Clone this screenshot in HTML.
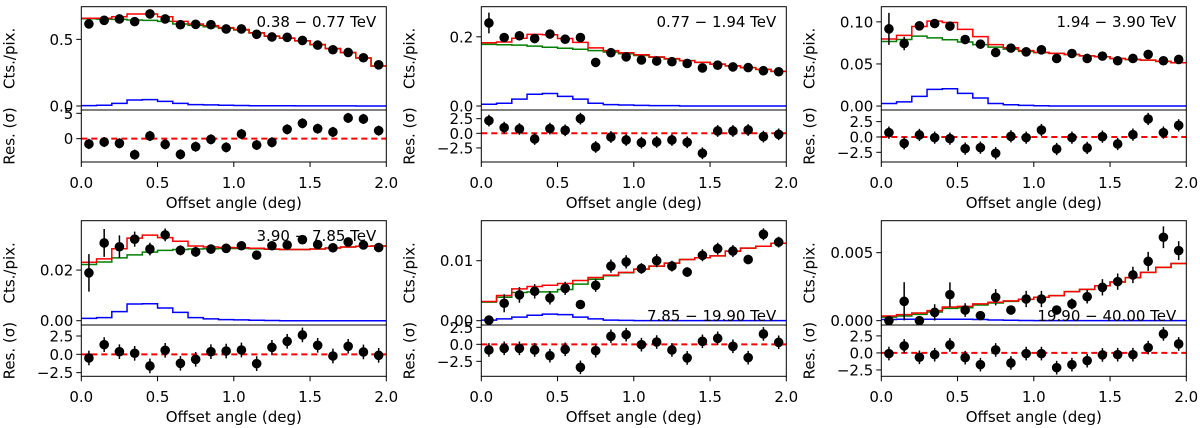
<!DOCTYPE html>
<html><head><meta charset="utf-8">
<style>
html,body{margin:0;padding:0;background:#fff;}
svg{display:block;font-family:"DejaVu Sans","Liberation Sans",sans-serif;}
</style></head>
<body>
<svg id="fig" width="1200" height="428" viewBox="0 0 1200 428" xmlns="http://www.w3.org/2000/svg"></svg>
<script>
// ---- data (20 bins, centres 0.05..1.95 deg) ----
const binEdges = [0,0.1,0.2,0.3,0.4,0.5,0.6,0.7,0.8,0.9,1.0,1.1,1.2,1.3,1.4,1.5,1.6,1.7,1.8,1.9,2.0];
const binCenters = [0.05,0.15,0.25,0.35,0.45,0.55,0.65,0.75,0.85,0.95,1.05,1.15,1.25,1.35,1.45,1.55,1.65,1.75,1.85,1.95];
const xTicks = [0,0.5,1.0,1.5,2.0];
const xTickLabels = ["0.0","0.5","1.0","1.5","2.0"];
const energyLabels = ["0.38 \u2212 0.77 TeV","0.77 \u2212 1.94 TeV","1.94 \u2212 3.90 TeV","3.90 \u2212 7.85 TeV","7.85 \u2212 19.90 TeV","19.90 \u2212 40.00 TeV"];

const counts1 = [0.616,0.643,0.653,0.633,0.691,0.653,0.610,0.613,0.610,0.578,0.578,0.538,0.518,0.515,0.492,0.457,0.422,0.402,0.362,0.309];
const countErr1 = [0.012,0.012,0.012,0.012,0.012,0.012,0.012,0.012,0.012,0.012,0.012,0.012,0.012,0.012,0.012,0.012,0.012,0.012,0.012,0.012];
const bkg1 = [0.655,0.652,0.650,0.645,0.642,0.635,0.615,0.605,0.595,0.582,0.570,0.548,0.523,0.508,0.489,0.460,0.430,0.400,0.360,0.300];
const src1 = [0.003,0.006,0.020,0.045,0.048,0.035,0.020,0.010,0.008,0.006,0.004,0.002,0.002,0.002,0.001,0.001,0.001,0.001,0,0];
const res1 = [-1.05,-0.66,-0.92,-3.16,0.53,-1.12,-3.09,-1.58,-0.13,-1.71,0.92,-1.25,-0.72,1.84,3.03,1.97,1.32,4.08,3.88,1.58];

const counts2 = [0.240,0.198,0.203,0.195,0.208,0.193,0.198,0.126,0.154,0.142,0.133,0.130,0.128,0.123,0.110,0.118,0.113,0.111,0.102,0.099];
const countErr2 = [0.03,0.01,0.008,0.008,0.008,0.008,0.008,0.007,0.007,0.007,0.007,0.007,0.007,0.007,0.007,0.007,0.007,0.007,0.007,0.007];
const bkg2 = [0.178,0.177,0.176,0.173,0.170,0.167,0.164,0.160,0.156,0.151,0.146,0.141,0.136,0.131,0.126,0.121,0.116,0.111,0.106,0.100];
const src2 = [0.005,0.008,0.020,0.034,0.036,0.028,0.020,0.008,0.004,0.003,0.002,0.001,0.001,0,0,0,0,0,0,0];
const res2 = [2.16,0.97,0.74,-0.97,0.80,0.51,2.5,-2.33,-0.63,-1.14,-1.59,-1.48,-1.14,-1.53,-3.41,0.40,0.40,0.57,-0.57,-0.17];

const counts3 = [0.0917,0.0743,0.0953,0.098,0.0949,0.079,0.0735,0.0636,0.0688,0.0644,0.0668,0.0565,0.0624,0.0565,0.0593,0.0538,0.0565,0.0613,0.0538,0.0553];
const countErr3 = [0.019,0.008,0.005,0.005,0.004,0.004,0.003,0.003,0.003,0.003,0.003,0.003,0.003,0.003,0.003,0.003,0.003,0.003,0.003,0.003];
const bkg3 = [0.0767,0.079,0.083,0.081,0.0787,0.076,0.073,0.070,0.0676,0.065,0.0634,0.0626,0.0612,0.0596,0.0585,0.0565,0.0553,0.0545,0.053,0.0514];
const src3 = [0.003,0.005,0.0115,0.0198,0.0206,0.015,0.0095,0.003,0.0016,0.0008,0.0004,0,0,0,0,0,0,0,0,0];
const res3 = [0.71,-1.03,0.33,-0.11,-0.27,-1.90,-1.74,-2.66,0.11,-0.11,1.14,-1.96,-0.11,-1.79,0.05,-1.14,0.38,2.93,0.71,1.90];

const counts4 = [0.0189,0.0307,0.0292,0.0322,0.0283,0.0339,0.0278,0.0272,0.0283,0.0286,0.0296,0.0259,0.0296,0.0299,0.0320,0.0301,0.0288,0.0311,0.0299,0.0289];
const countErr4 = [0.0074,0.0055,0.0045,0.003,0.0025,0.0025,0.002,0.002,0.0018,0.0018,0.0015,0.0015,0.0015,0.0015,0.0015,0.0015,0.0015,0.0015,0.0015,0.0015];
const bkg4 = [0.0222,0.0232,0.0248,0.0260,0.0271,0.0278,0.0281,0.0283,0.0284,0.0285,0.0285,0.0284,0.0282,0.0281,0.0281,0.0283,0.0287,0.0291,0.0294,0.0295];
const src4 = [0.0009,0.0012,0.0036,0.0066,0.0067,0.005,0.0033,0.0012,0.0007,0.0004,0.0003,0.0002,0.0001,0,0,0,0,0,0,0];
const res4 = [-0.5,1.32,0.36,0.14,-1.59,0.55,-1.23,-0.68,0.36,0.45,0.59,-1.27,0.95,1.77,2.64,1.23,-0.23,1.09,0.32,-0.14];

const counts5 = [0.0001,0.0029,0.0043,0.0049,0.0038,0.0054,0.0027,0.0059,0.0091,0.0098,0.0087,0.0100,0.0091,0.0081,0.0109,0.0120,0.0116,0.0102,0.0144,0.0131];
const countErr5 = [0.0003,0.0015,0.0013,0.0012,0.0011,0.0011,0.0006,0.0011,0.0011,0.0011,0.0009,0.0011,0.0009,0.0008,0.0010,0.0010,0.0010,0.0008,0.0010,0.0009];
const bkg5 = [0.0031,0.0039,0.0047,0.0048,0.0048,0.0052,0.0061,0.0069,0.0075,0.0080,0.0086,0.0091,0.0096,0.0102,0.0105,0.0108,0.0116,0.0121,0.0124,0.0129];
const src5 = [0.0001,0.0003,0.0006,0.0009,0.0011,0.001,0.0006,0.0003,0.0001,0.00005,0,0,0,0,0,0,0,0,0,0];
const res5 = [-0.83,-0.59,-0.59,-0.83,-1.67,-0.74,-3.38,-0.93,1.18,1.42,-0.05,0.34,-0.83,-2.0,0.44,0.88,-0.29,-1.96,1.52,0.29];

const counts6 = [0,0.00142,0,0.00061,0.00191,0.00078,0.00037,0.00172,0.00078,0.00159,0.00159,0.00078,0.00123,0.00176,0.00245,0.00287,0.00336,0.00436,0.00613,0.00515];
const countErr6 = [0.0001,0.0014,0.0001,0.0006,0.0009,0.0005,0.0003,0.0006,0.0003,0.0006,0.0006,0.0003,0.0004,0.0005,0.0006,0.0006,0.0006,0.0007,0.0008,0.0007];
const bkg6 = [0.00026,0.00034,0.00046,0.00064,0.0009,0.00095,0.00115,0.0013,0.00142,0.00156,0.00172,0.00184,0.00213,0.0023,0.00257,0.00284,0.00316,0.00355,0.00392,0.0042];
const src6 = [0.00008,0.0001,0.0001,0.0001,0.0001,0.0001,0.00008,0.00005,0.00003,0.00001,0,0,0,0,0,0,0,0,0,0];
const res6 = [-0.1,1.03,-0.64,-0.25,1.18,-0.69,-1.72,0.44,-1.47,-0.1,-0.1,-2.16,-1.72,-1.13,-0.29,-0.25,-0.25,0.78,2.79,1.32];

const mainYTicks = [[0,0.5],[0,0.2],[0,0.05,0.10],[0,0.02],[0,0.01],[0,0.005]];
const mainYTickLabels = [["0.0","0.5"],["0.0","0.2"],["0.00","0.05","0.10"],["0.00","0.02"],["0.00","0.01"],["0.000","0.005"]];
const resYTicks = [[0,5],[-2.5,0,2.5],[-2.5,0,2.5],[-2.5,0,2.5],[-2.5,0,2.5],[-2.5,0,2.5]];
const resYTickLabels = [["0","5"],["\u22122.5","0.0","2.5"],["\u22122.5","0.0","2.5"],["\u22122.5","0.0","2.5"],["\u22122.5","0.0","2.5"],["\u22122.5","0.0","2.5"]];
const mainRanges = [[-0.03,0.745],[-0.0115,0.287],[-0.0047,0.118],[-0.0017,0.0395],[-0.00072,0.01667],[-0.00032,0.00735]];
const resRanges = [[-4.6,5.65],[-4.9,3.98],[-4.08,4.4],[-3.0,4.0],[-4.7,2.84],[-3.43,4.1]];

const panels = [
 {c:counts1,e:countErr1,b:bkg1,s:src1,r:res1},
 {c:counts2,e:countErr2,b:bkg2,s:src2,r:res2},
 {c:counts3,e:countErr3,b:bkg3,s:src3,r:res3},
 {c:counts4,e:countErr4,b:bkg4,s:src4,r:res4},
 {c:counts5,e:countErr5,b:bkg5,s:src5,r:res5},
 {c:counts6,e:countErr6,b:bkg6,s:src6,r:res6}
];

// ---- drawing ----
const NS="http://www.w3.org/2000/svg";
const svg=document.getElementById('fig');
const FS=15;
function mk(tag,attrs,parent){const el=document.createElementNS(NS,tag);for(const k in attrs)el.setAttribute(k,attrs[k]);(parent||svg).appendChild(el);return el;}
const colX=[81.3,481.3,881.3], W=305;
const rows=[{mt:6.7,sep:110,rb:162,tick:188,title:208,lab:22},{mt:220.7,sep:325,rb:376.3,tick:402,title:422,lab:236}];

panels.forEach((p,i)=>{
  const col=i%3,row=rows[Math.floor(i/3)];
  const x0=colX[col];
  const g=mk('g',{});
  
  
  const sx=v=>x0+v/2*W;
  const [m0,m1]=mainRanges[i];
  const sy=v=>row.sep-(v-m0)/(m1-m0)*(row.sep-row.mt);
  const [r0,r1]=resRanges[i];
  const sr=v=>row.rb-(v-r0)/(r1-r0)*(row.rb-row.sep);
  const clipId='clip'+i;
  const cp=mk('clipPath',{id:clipId},g);mk('rect',{x:x0,y:row.mt,width:W,height:row.rb-row.mt},cp);
  const plot=mk('g',{'clip-path':'url(#'+clipId+')'},g);
  function steps(vals){let d='';vals.forEach((v,k)=>{const y=sy(v);d+=(k?'L':'M')+sx(binEdges[k])+','+y+'L'+sx(binEdges[k+1])+','+y;});return d;}
  const total=p.b.map((v,k)=>v+p.s[k]);
  const sb=mk('path',{d:steps(p.s),fill:'none',stroke:'#0000ff','stroke-width':1.5},plot);
  
  const gb=mk('path',{d:steps(p.b),fill:'none',stroke:'#008000','stroke-width':1.5},plot);
  
  const tt=mk('path',{d:steps(total),fill:'none',stroke:'#ff0000','stroke-width':1.5},plot);
  
  const rl=mk('line',{x1:x0,x2:x0+W,y1:sr(0),y2:sr(0),stroke:'#ff0000','stroke-width':2,'stroke-dasharray':'6,4'},plot);
  
  p.c.forEach((v,k)=>{
    const cx=sx(binCenters[k]);
    const eb=mk('line',{x1:cx,x2:cx,y1:sy(v-p.e[k]),y2:sy(v+p.e[k]),stroke:'#000','stroke-width':1.5},plot);
    
    const pt=mk('circle',{cx:cx,cy:sy(v),r:4.8,fill:'#000'},plot);
    
  });
  p.r.forEach((v,k)=>{
    const cx=sx(binCenters[k]);
    const eb=mk('line',{x1:cx,x2:cx,y1:sr(v-1),y2:sr(v+1),stroke:'#000','stroke-width':1.5},plot);
    
    const pt=mk('circle',{cx:cx,cy:sr(v),r:4.8,fill:'#000'},plot);
    
  });
  const f1=mk('rect',{x:x0,y:row.mt,width:W,height:row.sep-row.mt,fill:'none',stroke:'#000','stroke-width':1},g);
  
  const f2=mk('rect',{x:x0,y:row.sep,width:W,height:row.rb-row.sep,fill:'none',stroke:'#000','stroke-width':1},g);
  
  mainYTicks[i].forEach((t,k)=>{const y=sy(t);mk('line',{x1:x0-5,x2:x0,y1:y,y2:y,stroke:'#000'},g);
    const tx=mk('text',{x:x0-8,y:y+5.5,'font-size':FS,'text-anchor':'end'},g);tx.textContent=mainYTickLabels[i][k];
    });
  resYTicks[i].forEach((t,k)=>{const y=sr(t);mk('line',{x1:x0-5,x2:x0,y1:y,y2:y,stroke:'#000'},g);
    const tx=mk('text',{x:x0-8,y:y+5.5,'font-size':FS,'text-anchor':'end'},g);tx.textContent=resYTickLabels[i][k];
    });
  xTicks.forEach((t,k)=>{const x=sx(t);mk('line',{x1:x,x2:x,y1:row.rb,y2:row.rb+5,stroke:'#000'},g);
    const tx=mk('text',{x:x,y:row.tick,'font-size':FS,'text-anchor':'middle'},g);tx.textContent=xTickLabels[k];
    });
  const xt=mk('text',{x:x0+W/2,y:row.title,'font-size':FS,'text-anchor':'middle'},g);xt.textContent='Offset angle (deg)';
  
  const lx=x0-67;
  const my=(row.mt+row.sep)/2;
  const y1=mk('text',{x:lx,y:my,'font-size':FS,'text-anchor':'middle',transform:'rotate(-90 '+lx+' '+my+')'},g);
  y1.textContent='Cts./pix.';
  const ry=(row.sep+row.rb)/2;
  const y2=mk('text',{x:lx,y:ry,'font-size':FS,'text-anchor':'middle',transform:'rotate(-90 '+lx+' '+ry+')'},g);
  y2.textContent='Res. (\u03c3)';
  const ly=(i>=4)?row.sep-4:row.lab+5;
  const el=mk('text',{x:x0+W-10,y:ly,'font-size':FS,'text-anchor':'end'},g);
  el.textContent=energyLabels[i];
});
</script>
</body></html>
